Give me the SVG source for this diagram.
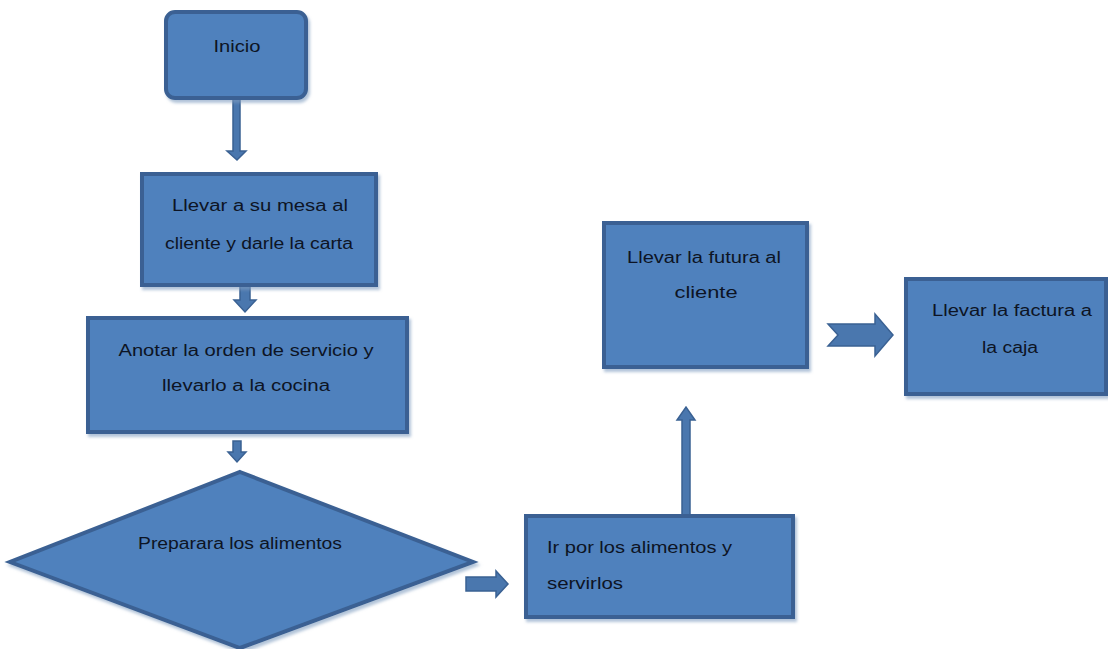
<svg xmlns="http://www.w3.org/2000/svg" width="1108" height="649" viewBox="0 0 1108 649">
<defs>
<style>
.box{fill:#4F81BD;stroke:#3A6193;stroke-width:4}
.arr{fill:#4A77AE;stroke:#3A6193;stroke-width:1.5}
.t{font-family:"Liberation Sans",Arial,sans-serif;font-size:16px;fill:#0d1424}
.c{text-anchor:middle}
</style>
<filter id="sh" x="-5%" y="-5%" width="115%" height="115%">
<feDropShadow dx="2" dy="3" stdDeviation="1.5" flood-color="#7f9cc0" flood-opacity="0.6"/>
</filter>
</defs>
<rect width="1108" height="649" fill="#ffffff"/>
<g id="connectors">
<polygon class="arr" points="233,99 240,99 240,151 246,151 237,160 227,151 233,151"/>
<polygon class="arr" points="240,286 250,286 250,300 256,300 245,312 234,300 240,300"/>
<polygon class="arr" points="233,441 241,441 241,452 246,452 237,462 228,452 233,452"/>
<polygon class="arr" points="466,577 496,577 496,571 508,584 496,597 496,591 466,591"/>
<polygon class="arr" points="682,515 682,420 677,420 686,407 695,420 690,420 690,515"/>
<polygon class="arr" points="828,324 875,324 875,314 893,335 875,356 875,346 828,346 838,335"/>
</g>
<g id="n-inicio">
<rect class="box" filter="url(#sh)" x="166" y="12" width="140" height="86" rx="9"/>
<text class="t c" x="237" y="52" textLength="47" lengthAdjust="spacingAndGlyphs">Inicio</text>
</g>
<g id="n-llevar-mesa">
<rect class="box" filter="url(#sh)" x="142" y="174" width="234" height="111"/>
<text class="t c" x="260" y="211" textLength="176" lengthAdjust="spacingAndGlyphs">Llevar a su mesa al</text>
<text class="t c" x="259" y="249" textLength="188" lengthAdjust="spacingAndGlyphs">cliente y darle la carta</text>
</g>
<g id="n-anotar">
<rect class="box" filter="url(#sh)" x="88" y="318" width="319" height="114"/>
<text class="t c" x="246" y="356" textLength="255" lengthAdjust="spacingAndGlyphs">Anotar la orden de servicio y</text>
<text class="t c" x="246" y="391" textLength="168" lengthAdjust="spacingAndGlyphs">llevarlo a la cocina</text>
</g>
<g id="n-preparar">
<polygon class="box" filter="url(#sh)" points="240,472 473,562 240,648 10,562"/>
<text class="t c" x="240" y="549" textLength="204" lengthAdjust="spacingAndGlyphs">Preparara los alimentos</text>
</g>
<g id="n-ir-por">
<rect class="box" filter="url(#sh)" x="526" y="516" width="267" height="101"/>
<text class="t" x="547" y="553" textLength="185" lengthAdjust="spacingAndGlyphs">Ir por los alimentos y</text>
<text class="t" x="547" y="589" textLength="76" lengthAdjust="spacingAndGlyphs">servirlos</text>
</g>
<g id="n-llevar-futura">
<rect class="box" filter="url(#sh)" x="604" y="223" width="203" height="144"/>
<text class="t c" x="704" y="263" textLength="154" lengthAdjust="spacingAndGlyphs">Llevar la futura al</text>
<text class="t c" x="706" y="298" textLength="63" lengthAdjust="spacingAndGlyphs">cliente</text>
</g>
<g id="n-llevar-factura">
<rect class="box" filter="url(#sh)" x="906" y="279" width="200" height="115"/>
<text class="t c" x="1012" y="316" textLength="160" lengthAdjust="spacingAndGlyphs">Llevar la factura a</text>
<text class="t c" x="1010" y="353" textLength="56" lengthAdjust="spacingAndGlyphs">la caja</text>
</g>
</svg>
